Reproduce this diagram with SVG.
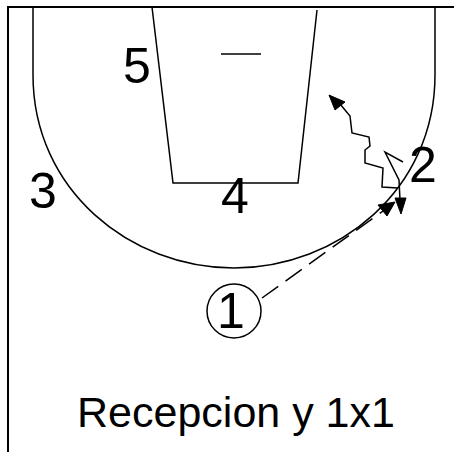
<svg xmlns="http://www.w3.org/2000/svg" width="454" height="452" viewBox="0 0 454 452">
<style>
.ln{fill:none;stroke:#000;stroke-width:1.5;stroke-linejoin:miter}
.frame{fill:none;stroke:#000;stroke-width:2}
.lbl{font-family:"Liberation Sans",Arial,sans-serif;font-size:50px;fill:#000;text-anchor:middle}
.title{font-family:"Liberation Sans",Arial,sans-serif;font-size:43px;fill:#000;text-anchor:middle}
.head{fill:#000;stroke:#000;stroke-width:1;stroke-linejoin:miter}
</style>
<rect width="454" height="452" fill="#fff"/>
<g id="court">
<path class="frame" d="M8,452 L8,7 L454,7"/>
<path class="ln" d="M33,7 L33,75 C33,190 130,268 234,268 C338,268 435,190 435,75 L435,7"/>
<path class="ln" d="M152,7 L173,183 L298,183 L317,10"/>
<path class="ln" d="M221,54 L261,54"/>
</g>
<g id="connectors">
<path class="ln" stroke-dasharray="20 9" d="M262,298 L383,211"/>
<polygon class="head" points="395,202 387,216 378,205"/>
<path class="ln" d="M403,162 L385,152 L399,180 L400,200"/>
<polygon class="head" points="401,214 395,198 406,198"/>
<path class="ln" d="M398,188 L382,187 L383,168 L365,163 L365,150 L370,146 L369,137 L352,133 L350,116 L340,104"/>
<polygon class="head" points="329,95 345,102 335,110"/>
</g>
<g id="p5"><text class="lbl" x="137" y="83">5</text></g>
<g id="p3"><text class="lbl" x="43" y="208">3</text></g>
<g id="p4"><text class="lbl" x="235" y="213">4</text></g>
<g id="p2"><text class="lbl" x="423" y="182">2</text></g>
<g id="p1">
<circle cx="234" cy="311" r="27" fill="#fff" stroke="#000" stroke-width="1.5"/>
<text class="lbl" x="231" y="328">1</text>
</g>
<g id="title"><text class="title" x="236" y="427">Recepcion y 1x1</text></g>
</svg>
